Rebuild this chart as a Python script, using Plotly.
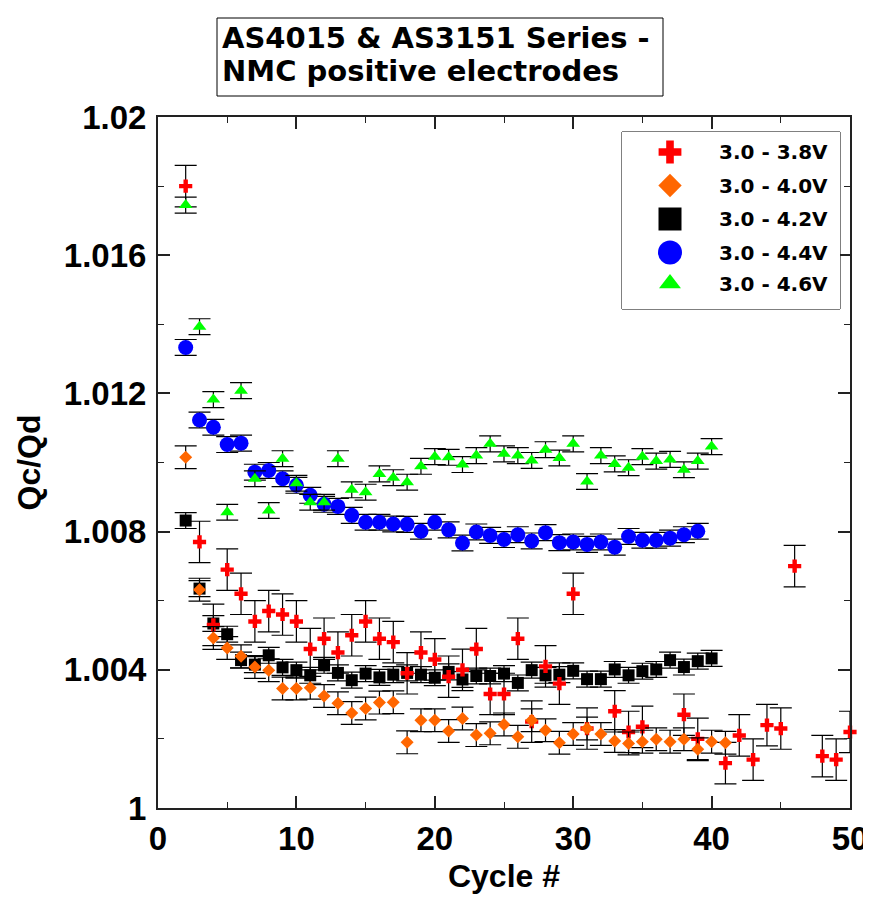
import plotly.graph_objects as go

# ---------------- data ----------------
cycles_38 = [2, 3, 4, 5, 6, 7, 8, 9, 10, 11, 12, 13, 14, 15, 16, 17, 18, 19, 20, 21, 22, 23, 24, 25, 26,
             27, 28, 29, 30, 31, 33, 34, 35, 38, 39, 41, 42, 43, 44, 45, 46, 48, 49, 50]
qcqd_38 = [1.0180, 1.0077, 1.0053, 1.0069, 1.0062, 1.0054, 1.0057, 1.0056, 1.0054, 1.0046, 1.0049, 1.0045,
           1.0050, 1.0054, 1.0049, 1.0048, 1.0039, 1.0045, 1.0043, 1.0038, 1.0040, 1.0046, 1.0033, 1.0033,
           1.0049, 1.0025, 1.0041, 1.0036, 1.0062, 1.0023, 1.0028, 1.0022, 1.00235, 1.0027, 1.0020, 1.0013,
           1.0021, 1.0014, 1.0024, 1.0023, 1.0070, 1.0015, 1.0014, 1.0022]
err_38 = 0.0006

cycles_40 = list(range(2, 42))
qcqd_40 = [1.01015, 1.00632, 1.00492, 1.00463, 1.00439, 1.00408, 1.00399, 1.00346, 1.00346, 1.00348,
           1.00324, 1.00303, 1.00275, 1.00288, 1.00305, 1.00306, 1.00190, 1.00254, 1.00254, 1.00223,
           1.00259, 1.00211, 1.00216, 1.00242, 1.00206, 1.00254, 1.00225, 1.00189, 1.00214, 1.00230,
           1.00214, 1.00194, 1.00187, 1.00192, 1.00199, 1.00192, 1.00199, 1.00170, 1.00192, 1.00189]
err_40 = 0.00033

cycles_42 = list(range(2, 41))
qcqd_42 = [1.00832, 1.00635, 1.00534, 1.00503, 1.00428, 1.00415, 1.00442, 1.00407, 1.00399, 1.00384,
           1.00413, 1.00391, 1.00370, 1.00389, 1.00378, 1.00386, 1.00391, 1.00386, 1.00377, 1.00394,
           1.00372, 1.00382, 1.00382, 1.00389, 1.00362, 1.00399, 1.00384, 1.00386, 1.00397, 1.00373,
           1.00373, 1.00401, 1.00384, 1.00396, 1.00401, 1.00428, 1.00408, 1.00425, 1.00433]
err_42 = 0.00023

cycles_44 = list(range(2, 40))
qcqd_44 = [1.01333, 1.01123, 1.01102, 1.01052, 1.01056, 1.00972, 1.00977, 1.00953, 1.00934, 1.00905,
           1.00879, 1.00873, 1.00847, 1.00827, 1.00827, 1.00822, 1.00821, 1.00801, 1.00827, 1.00805,
           1.00767, 1.00799, 1.00789, 1.00777, 1.00791, 1.00773, 1.00797, 1.00768, 1.00770, 1.00763,
           1.00770, 1.00755, 1.00786, 1.00775, 1.00775, 1.00781, 1.00791, 1.00801]
err_44 = 0.00023

cycles_46 = list(range(2, 41))
qcqd_46 = [1.01745, 1.01393, 1.01182, 1.00856, 1.01208, 1.00953, 1.00861, 1.01011, 1.00940, 1.00885,
           1.00885, 1.01011, 1.00921, 1.00914, 1.00967, 1.00956, 1.00943, 1.00989, 1.01017, 1.01015,
           1.00994, 1.01020, 1.01054, 1.01025, 1.01020, 1.01006, 1.01037, 1.01013, 1.01054, 1.00945,
           1.01020, 1.00996, 1.00985, 1.01017, 1.01004, 1.01009, 1.00979, 1.01004, 1.01046]
err_46 = 0.00023

series_names = ["3.0 - 3.8V", "3.0 - 4.0V", "3.0 - 4.2V", "3.0 - 4.4V", "3.0 - 4.6V"]

x_tick_vals = [0, 10, 20, 30, 40, 50]
y_tick_vals = [1.0, 1.004, 1.008, 1.012, 1.016, 1.02]
y_tick_text = ["1", "1.004", "1.008", "1.012", "1.016", "1.02"]

title_lines = ["AS4015 &amp; AS3151 Series -", "NMC positive electrodes"]

# ---------------- style ----------------
PAGE_OFF = 8                      # default body margin of the html page
W, H = 871 - PAGE_OFF, 897 - PAGE_OFF
L, R, T, B = 158, 850, 117, 808   # plot area in screen px

def px_x(p):
    return (p - L) / (R - L)

def px_y(p):
    return (B - p) / (B - T)

AX_FONT = "Liberation Sans, Arial, sans-serif"
WIDE_FONT = "DejaVu Sans, sans-serif"

styles = {
    "3.0 - 3.8V": dict(symbol="cross", color="#ff0000", size=11, lsize=19),
    "3.0 - 4.0V": dict(symbol="diamond", color="#ff6600", size=10, lsize=18),
    "3.0 - 4.2V": dict(symbol="square", color="#000000", size=12, lsize=23),
    "3.0 - 4.4V": dict(symbol="circle", color="#0000ff", size=15, lsize=24),
    "3.0 - 4.6V": dict(symbol="triangle-up", color="#00ff00", size=12, lsize=19),
}

data = {
    "3.0 - 3.8V": (cycles_38, qcqd_38, err_38),
    "3.0 - 4.0V": (cycles_40, qcqd_40, err_40),
    "3.0 - 4.2V": (cycles_42, qcqd_42, err_42),
    "3.0 - 4.4V": (cycles_44, qcqd_44, err_44),
    "3.0 - 4.6V": (cycles_46, qcqd_46, err_46),
}

fig = go.Figure()

draw_order = ["3.0 - 4.2V", "3.0 - 3.8V", "3.0 - 4.0V", "3.0 - 4.4V", "3.0 - 4.6V"]
for name in draw_order:
    xs, ys, err = data[name]
    st = styles[name]
    fig.add_trace(go.Scatter(
        x=xs, y=ys, mode="markers", name=name, showlegend=False, cliponaxis=False,
        marker=dict(symbol=st["symbol"], color=st["color"], size=st["size"], line=dict(width=0)),
        error_y=dict(type="constant", value=err, color="black", thickness=1.2, width=11),
    ))

# ---------- custom legend (own small axes) ----------
leg_l, leg_r, leg_t, leg_b = 622, 840, 132, 309
leg_rows = [20, 53.5, 87, 120.5, 151.5]
fig.add_shape(type="rect", xref="paper", yref="paper",
              x0=px_x(leg_l), x1=px_x(leg_r), y0=px_y(leg_b), y1=px_y(leg_t),
              line=dict(color="black", width=1), fillcolor="white", layer="below")
for name, ry in zip(series_names, leg_rows):
    st = styles[name]
    fig.add_trace(go.Scatter(
        x=[48], y=[ry], mode="markers", xaxis="x2", yaxis="y2", showlegend=False,
        hoverinfo="skip", cliponaxis=False,
        marker=dict(symbol=st["symbol"], color=st["color"], size=st["lsize"], line=dict(width=0)),
    ))
    fig.add_annotation(x=95, y=ry, xref="x2", yref="y2", text=name, showarrow=False,
                       xanchor="left", yanchor="middle",
                       font=dict(family=WIDE_FONT, size=20, color="black", weight="bold"))

# ---------- title box ----------
fig.add_shape(type="rect", xref="paper", yref="paper",
              x0=px_x(217), x1=px_x(663), y0=px_y(96), y1=px_y(18),
              line=dict(color="black", width=1), fillcolor="white")
for line_txt, cy in zip(title_lines, [38, 71]):
    fig.add_annotation(x=px_x(220), y=px_y(cy), xref="paper", yref="paper", text=line_txt,
                       showarrow=False, xanchor="left", yanchor="middle",
                       font=dict(family=WIDE_FONT, size=29, color="black", weight="bold"))

axis_common = dict(
    showgrid=False, zeroline=False, showline=True, linecolor="#222", linewidth=2,
    mirror="ticks", ticks="inside", ticklen=12, tickwidth=1.5, tickcolor="#222",
    automargin=False,
    tickfont=dict(family=AX_FONT, size=33, color="black", weight="bold"),
)

fig.update_layout(
    width=W, height=H,
    margin=dict(l=L - PAGE_OFF, r=871 - R, t=T - PAGE_OFF, b=897 - B, autoexpand=False),
    paper_bgcolor="white", plot_bgcolor="white",
    showlegend=False,
    xaxis=dict(
        range=[0, 50], tickmode="array", tickvals=x_tick_vals,
        minor=dict(tickmode="linear", tick0=0, dtick=5, ticks="inside", ticklen=6,
                   tickwidth=1.2, tickcolor="#222"),
        title=dict(text="Cycle #", standoff=9,
                   font=dict(family=AX_FONT, size=32, color="black", weight="bold")),
        **axis_common,
    ),
    yaxis=dict(
        range=[1.0, 1.02], tickmode="array", tickvals=y_tick_vals, ticktext=y_tick_text,
        minor=dict(tickmode="linear", tick0=1.0, dtick=0.002, ticks="inside", ticklen=6,
                   tickwidth=1.2, tickcolor="#222"),
        ticklabelstandoff=3,
        title=dict(text="Qc/Qd", standoff=14,
                   font=dict(family=AX_FONT, size=32, color="black", weight="bold")),
        **axis_common,
    ),
    xaxis2=dict(domain=[px_x(leg_l), px_x(leg_r)], range=[0, leg_r - leg_l], visible=False,
                anchor="y2", fixedrange=True),
    yaxis2=dict(domain=[px_y(leg_b), px_y(leg_t)], range=[leg_b - leg_t, 0], visible=False,
                anchor="x2", fixedrange=True),
)

fig.write_html("out.html")
